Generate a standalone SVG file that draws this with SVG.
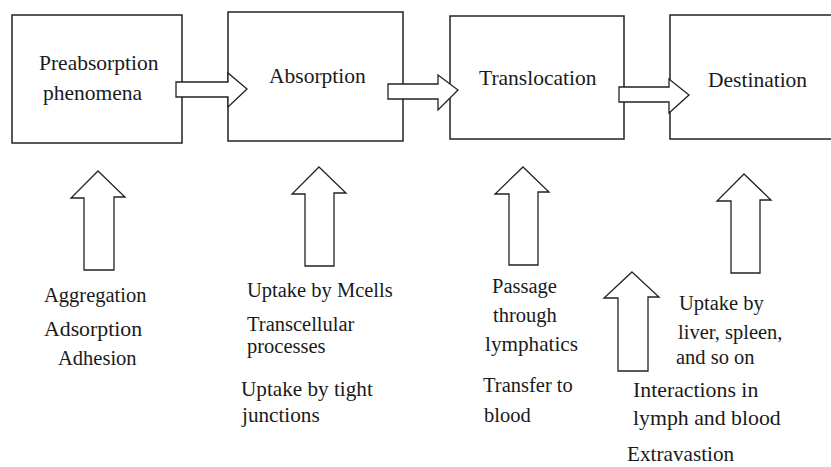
<svg xmlns="http://www.w3.org/2000/svg" width="831" height="467" viewBox="0 0 831 467">
<style>
.box{fill:#fff;stroke:#222;stroke-width:1.5}
.arr{fill:#fff;stroke:#222;stroke-width:1.3;stroke-linejoin:miter}
.t{font-size:21.5px}
.s{font-size:20.5px}
.m{font-size:21.2px}
.l{font-size:21.8px}
</style>
<rect width="831" height="467" fill="#fff"/>
<g font-family="Liberation Serif, Times New Roman, Tinos, serif" fill="#1a1a1a">
<g id="node-preabsorption">
<rect class="box" x="12" y="15" width="170" height="128"/>
<text class="t" x="39" y="70">Preabsorption</text>
<text class="t" x="43" y="100">phenomena</text>
</g>
<g id="node-absorption">
<rect class="box" x="228" y="12" width="175" height="129"/>
<text class="t" x="269" y="83">Absorption</text>
</g>
<g id="node-translocation">
<rect class="box" x="450" y="16" width="174" height="123"/>
<text class="t" x="479" y="85">Translocation</text>
</g>
<g id="node-destination">
<rect class="box" x="670" y="15" width="175" height="124"/>
<text class="t" x="708" y="87">Destination</text>
</g>
<g id="connectors">
<polygon class="arr" points="176,82 228,82 228,73 247,89 228,107 228,97 176,97"/>
<polygon class="arr" points="388,84 438,84 438,75 458,90 438,110 438,99 388,99"/>
<polygon class="arr" points="619,87 669,87 669,79 689,95 669,113 669,102 619,102"/>
<polygon class="arr" points="98,171 125,197 114,197 114,270 84,270 84,198 71,198"/>
<polygon class="arr" points="319,167 346,193 334,193 334,266 305,266 305,194 292,194"/>
<polygon class="arr" points="523,167 549,192 538,192 538,265 509,265 509,194 495,194"/>
<polygon class="arr" points="744,174 771,200 760,200 760,273 731,273 731,201 717,201"/>
<polygon class="arr" points="632,272 659,297 648,297 648,371 618,371 618,298 604,298"/>
</g>
<g id="labels-preabsorption">
<text class="s" x="44" y="302">Aggregation</text>
<text class="l" x="44" y="336">Adsorption</text>
<text class="s" x="58" y="365">Adhesion</text>
</g>
<g id="labels-absorption">
<text class="s" x="247" y="297">Uptake by Mcells</text>
<text class="s" x="247" y="331">Transcellular</text>
<text class="s" x="247" y="353">processes</text>
<text class="m" x="241" y="396">Uptake by tight</text>
<text class="m" x="242" y="422">junctions</text>
</g>
<g id="labels-translocation">
<text class="s" x="492" y="293">Passage</text>
<text class="s" x="493" y="322">through</text>
<text class="m" x="485" y="351">lymphatics</text>
<text class="s" x="483" y="392">Transfer to</text>
<text class="s" x="484" y="422">blood</text>
</g>
<g id="labels-destination">
<text class="s" x="679" y="310">Uptake by</text>
<text class="s" x="678" y="339">liver, spleen,</text>
<text class="s" x="676" y="364">and so on</text>
<text class="l" x="633" y="397">Interactions in</text>
<text class="l" x="633" y="425">lymph and blood</text>
<text class="m" x="627" y="461">Extravastion</text>
</g>
</g>
</svg>
